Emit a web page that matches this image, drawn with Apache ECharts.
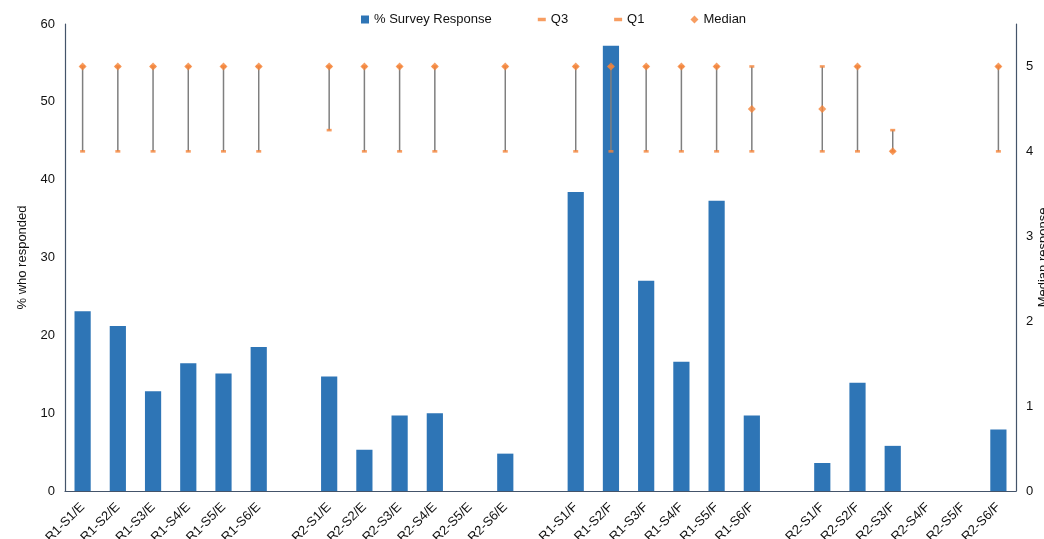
<!DOCTYPE html>
<html>
<head>
<meta charset="utf-8">
<script src="https://cdn.jsdelivr.net/npm/echarts@6/dist/echarts.min.js"></script>
<style>html,body{margin:0;padding:0;background:#fff}#c{width:1044px;height:539px}</style>
</head>
<body>
<div id="c"></div>
<script>
var categories = ['R1-S1/E','R1-S2/E','R1-S3/E','R1-S4/E','R1-S5/E','R1-S6/E','',
  'R2-S1/E','R2-S2/E','R2-S3/E','R2-S4/E','R2-S5/E','R2-S6/E','',
  'R1-S1/F','R1-S2/F','R1-S3/F','R1-S4/F','R1-S5/F','R1-S6/F','',
  'R2-S1/F','R2-S2/F','R2-S3/F','R2-S4/F','R2-S5/F','R2-S6/F'];
var responsePct = [23.1,21.2,12.8,16.4,15.1,18.5,null,
  14.7,5.3,9.7,10.0,0,4.8,null,
  38.4,57.2,27.0,16.6,37.3,9.7,null,
  3.6,13.9,5.8,0,0,7.9];
var q3 = [5,5,5,5,5,5,null, 5,5,5,5,null,5,null, 5,5,5,5,5,5,null, 5,5,4.25,null,null,5];
var q1 = [4,4,4,4,4,4,null, 4.25,4,4,4,null,4,null, 4,4,4,4,4,4,null, 4,4,4,null,null,4];
var median = [5,5,5,5,5,5,null, 5,5,5,5,null,5,null, 5,5,5,5,5,4.5,null, 4.5,5,4,null,null,5];
var leftTicks = {min:0, max:60, interval:10};
var rightTicks = {min:0, max:5.5, interval:1};

var FONT = 'Liberation Sans, Arial, Helvetica, sans-serif';
var ORANGE = '#F5843A';
var AXIS = '#44546A';

var hiLow = [];
for (var i = 0; i < categories.length; i++) {
  if (q1[i] != null && q3[i] != null) hiLow.push([i, q1[i], q3[i]]);
}
function pts(arr){ var o=[]; for (var i=0;i<arr.length;i++){ o.push(arr[i]==null?[i,null]:[i,arr[i]]);} return o; }

var chart = echarts.init(document.getElementById('c'));
chart.setOption({
  animation: false,
  textStyle: {fontFamily: FONT},
  legend: {
    top: 8, left: 356, itemGap: 46, itemWidth: 8, itemHeight: 8,
    textStyle: {fontFamily: FONT, fontSize: 13, color: '#111'},
    data: [
      {name: '% Survey Response', icon: 'rect'},
      {name: 'Q3', icon: 'path://M0,0h6v2.6h-6z'},
      {name: 'Q1', icon: 'path://M0,0h6v2.6h-6z'},
      {name: 'Median', icon: 'diamond'}
    ]
  },
  grid: {left: 65, right: 28, top: 24, bottom: 48, outerBoundsMode: 'none', containLabel: false},
  xAxis: {
    type: 'category', data: categories,
    axisLine: {lineStyle: {color: AXIS, width: 1.2}},
    axisTick: {show: false},
    axisLabel: {rotate: 45, interval: 0, fontSize: 13, color: '#111', fontFamily: FONT, margin: 14}
  },
  yAxis: [
    {
      type: 'value', min: leftTicks.min, max: leftTicks.max, interval: leftTicks.interval,
      name: '% who responded', nameLocation: 'middle', nameRotate: 90, nameGap: 36,
      nameMoveOverlap: false,
      nameTextStyle: {fontSize: 13, color: '#111', fontFamily: FONT},
      axisLine: {show: true, lineStyle: {color: AXIS, width: 1.2}},
      axisTick: {show: false}, splitLine: {show: false},
      axisLabel: {fontSize: 13, color: '#111', fontFamily: FONT, margin: 10}
    },
    {
      type: 'value', min: rightTicks.min, max: rightTicks.max, interval: rightTicks.interval,
      name: 'Median response', nameLocation: 'middle', nameRotate: 90, nameGap: 21,
      nameMoveOverlap: false,
      nameTextStyle: {fontSize: 13, color: '#111', fontFamily: FONT},
      axisLine: {show: true, lineStyle: {color: AXIS, width: 1.2}},
      axisTick: {show: false}, splitLine: {show: false},
      axisLabel: {fontSize: 13, color: '#111', fontFamily: FONT, margin: 10, showMaxLabel: false,
        formatter: function(v){ return (v % 1 === 0) ? String(v) : ''; }}
    }
  ],
  series: [
    {
      name: '% Survey Response', type: 'bar', yAxisIndex: 0, data: responsePct,
      barWidth: '46%', itemStyle: {color: '#2E75B6'}, z: 2
    },
    {
      name: 'hilow', type: 'custom', yAxisIndex: 1, data: hiLow, z: 3,
      renderItem: function(params, api){
        var a = api.coord([api.value(0), api.value(1)]);
        var b = api.coord([api.value(0), api.value(2)]);
        return {type: 'line', shape: {x1: a[0], y1: a[1], x2: b[0], y2: b[1]},
          style: {stroke: '#7F7F7F', lineWidth: 1.5}};
      },
      encode: {x: 0, y: [1, 2]}, silent: true
    },
    {
      name: 'Q3', type: 'scatter', yAxisIndex: 1, data: pts(q3), z: 4,
      symbol: 'rect', symbolSize: [5, 2.6], itemStyle: {color: ORANGE}
    },
    {
      name: 'Q1', type: 'scatter', yAxisIndex: 1, data: pts(q1), z: 4,
      symbol: 'rect', symbolSize: [5, 2.6], itemStyle: {color: ORANGE}
    },
    {
      name: 'Median', type: 'scatter', yAxisIndex: 1, data: pts(median), z: 5,
      symbol: 'diamond', symbolSize: 8, itemStyle: {color: ORANGE}
    }
  ]
});
</script>
</body>
</html>
